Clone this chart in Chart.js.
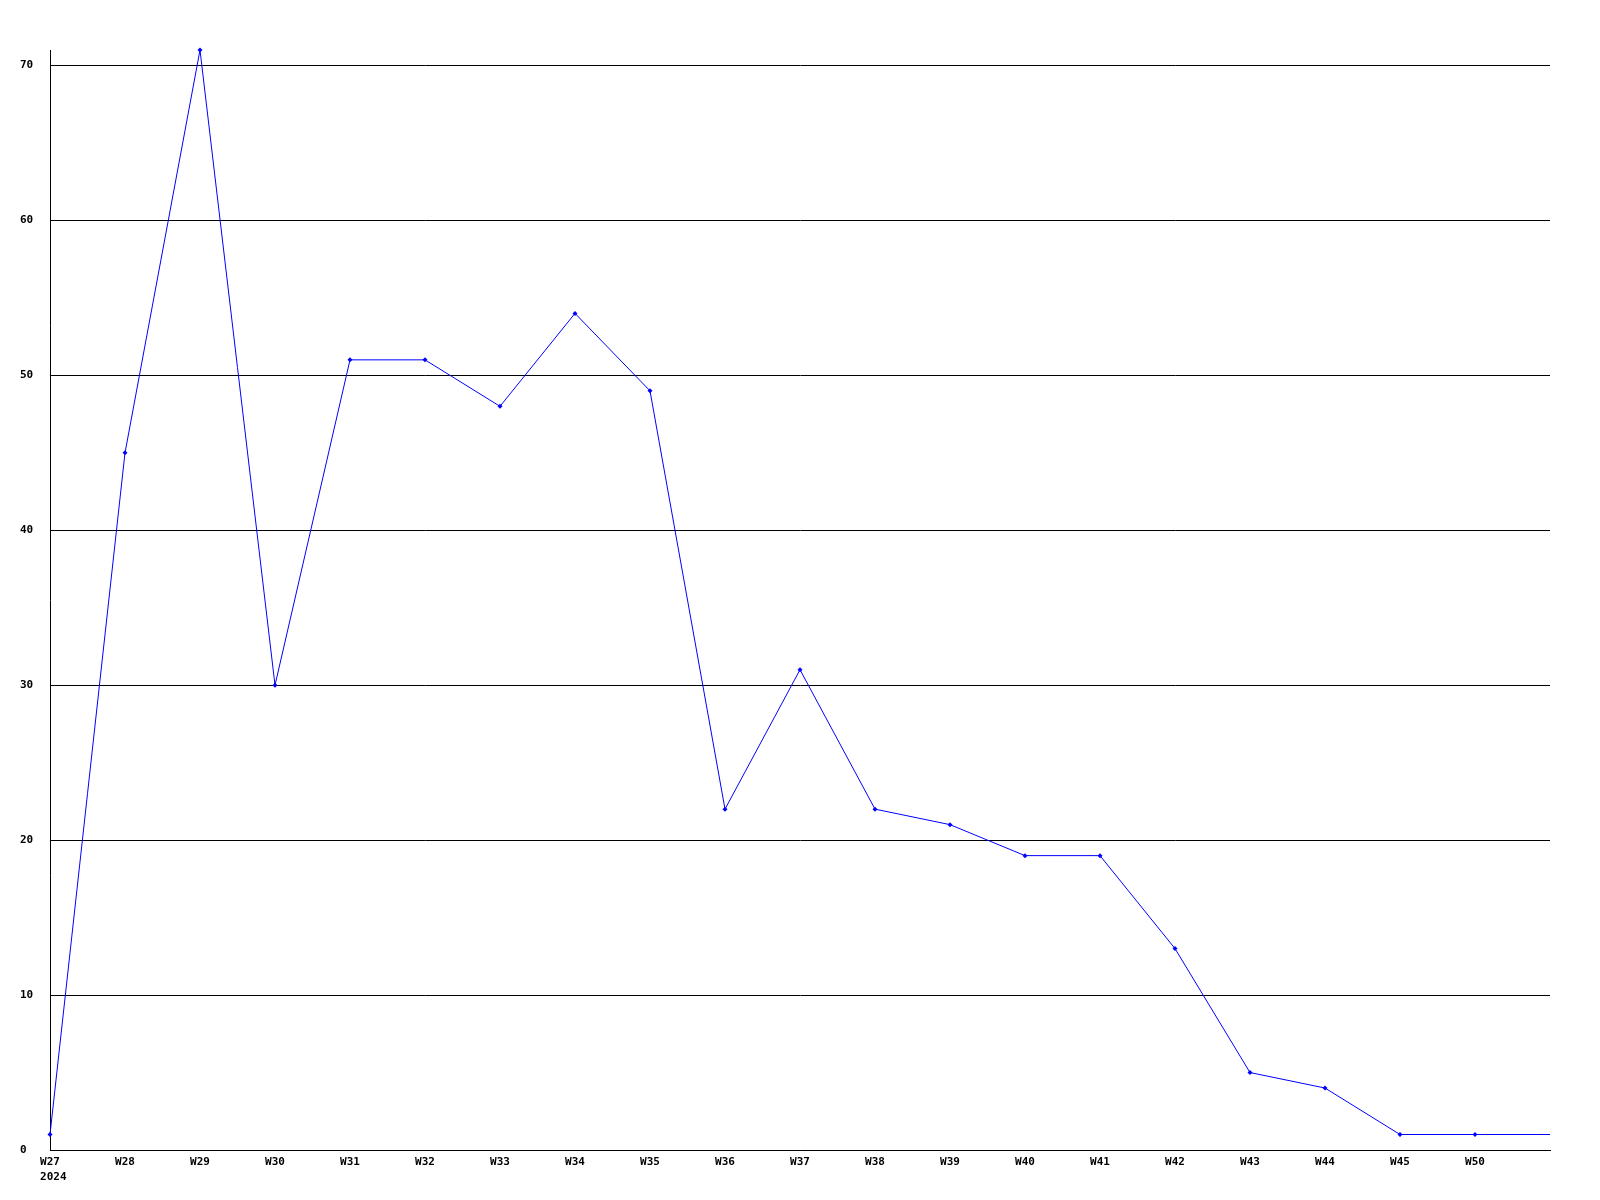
<!DOCTYPE html>
<html>
<head>
    <title>Weekly counts</title>
    <script src="https://cdn.jsdelivr.net/npm/chart.js"></script>
    <style>
        body { margin: 0; background: #fff; }
        #wrap { width: 1600px; height: 1200px; }
    </style>
</head>
<body>
    <div id="wrap">
        <canvas id="weekChart" width="1600" height="1200"></canvas>
    </div>

    <script>
        // Week labels (last slot has no label, the line just runs to the edge)
        // leading space keeps the year lined up with the start of "W27"
        const weeks = [['W27', ' 2024'], 'W28', 'W29', 'W30', 'W31', 'W32', 'W33', 'W34', 'W35', 'W36',
                       'W37', 'W38', 'W39', 'W40', 'W41', 'W42', 'W43', 'W44', 'W45', 'W50', ''];
        const counts = [1, 45, 71, 30, 51, 51, 48, 54, 49, 22,
                        31, 22, 21, 19, 19, 13, 5, 4, 1, 1, 1];
        const yMax = 71;
        const yStep = 10;

        const tickFont = { family: 'DejaVu Sans Mono', size: 11, weight: 'bold', lineHeight: 1.35 };

        const ctx = document.getElementById('weekChart').getContext('2d');
        const chart = new Chart(ctx, {
            type: 'line',
            data: {
                labels: weeks,
                datasets: [{
                    data: counts,
                    borderColor: '#0000ff',
                    backgroundColor: '#0000ff',
                    borderWidth: 1,
                    pointStyle: 'rectRot',
                    // no marker on the trailing edge point
                    pointRadius: counts.map((v, i) => i === counts.length - 1 ? 0 : 2.5),
                    pointBorderWidth: 0,
                    tension: 0,
                    fill: false,
                    clip: false
                }]
            },
            options: {
                responsive: false,
                animation: false,
                layout: { padding: { left: 20, right: 50, top: 50, bottom: 0 } },
                plugins: {
                    legend: { display: false },
                    tooltip: { enabled: false }
                },
                scales: {
                    x: {
                        type: 'category',
                        offset: false,
                        grid: { display: false, drawTicks: false },
                        border: { display: true, color: '#000', width: 1 },
                        ticks: {
                            color: '#000',
                            font: tickFont,
                            padding: 5,
                            maxRotation: 0,
                            autoSkip: false
                        },
                        afterFit: (axis) => { axis.height = 50; }
                    },
                    y: {
                        min: 0,
                        max: yMax,
                        grid: { color: '#000', lineWidth: 1, drawTicks: false },
                        border: { display: true, color: '#000', width: 1 },
                        ticks: {
                            stepSize: yStep,
                            color: '#000',
                            font: tickFont,
                            crossAlign: 'far',
                            padding: 0
                        },
                        afterBuildTicks: (axis) => {
                            axis.ticks = axis.ticks.filter(t => t.value % yStep === 0);
                        },
                        afterFit: (axis) => { axis.width = 30; }
                    }
                }
            }
        });
    </script>
</body>
</html>
